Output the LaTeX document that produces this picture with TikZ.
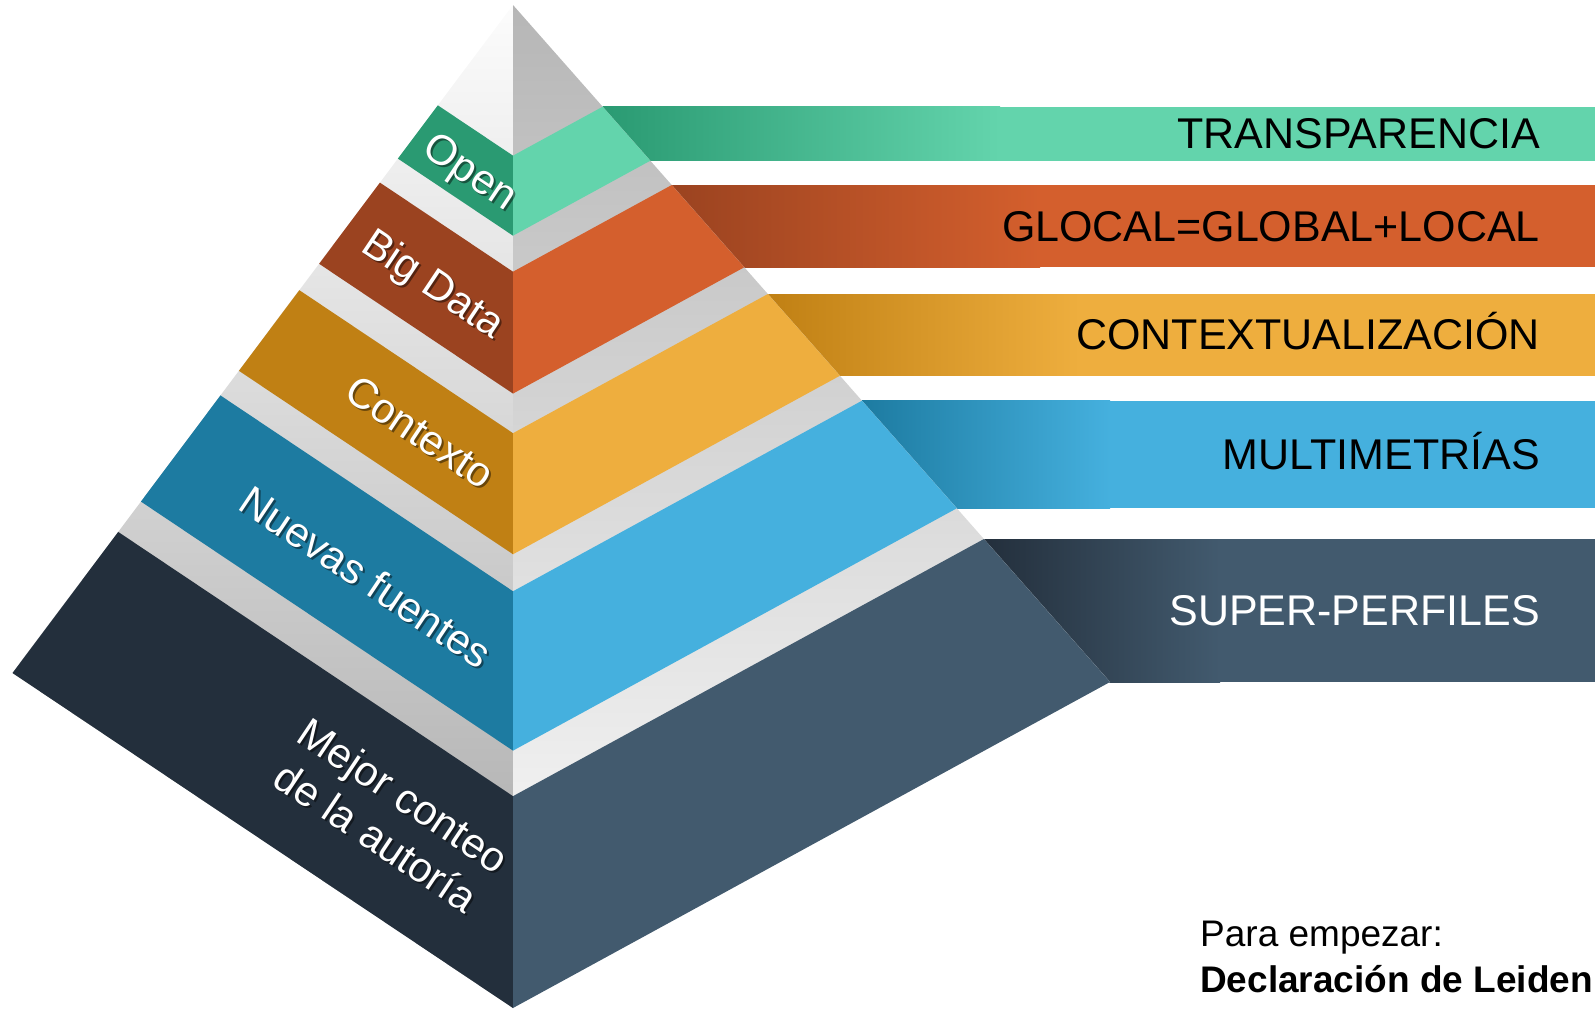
\documentclass[tikz,border=0pt]{standalone}
\usepackage{fontspec}
\setmainfont{Liberation Sans}
\usetikzlibrary{calc}

\definecolor{openL}{RGB}{42,154,114}
\definecolor{openR}{RGB}{99,212,172}
\definecolor{bigL}{RGB}{155,67,32}
\definecolor{bigR}{RGB}{212,95,45}
\definecolor{ctxL}{RGB}{192,128,20}
\definecolor{ctxR}{RGB}{238,174,62}
\definecolor{newL}{RGB}{29,123,161}
\definecolor{newR}{RGB}{69,176,222}
\definecolor{autL}{RGB}{35,47,60}
\definecolor{autR}{RGB}{66,90,110}
\definecolor{leftTop}{RGB}{252,252,252}
\definecolor{leftBot}{RGB}{165,165,165}
\definecolor{rightTop}{RGB}{182,182,182}
\definecolor{rightBot}{RGB}{255,255,255}

\begin{document}
\begin{tikzpicture}[x=1pt, y=-1pt,
    band/.style={font=\fontsize{43}{48}\selectfont, anchor=base east, inner sep=0pt},
    face/.style={text=white, font=\fontsize{42}{50}\selectfont, rotate=-33.8, align=center, inner sep=0pt},
    faceshadow/.style={face, text=black, opacity=0.45},
    note/.style={font=\fontsize{37}{44}\selectfont, anchor=base west, inner sep=0pt}]

    \useasboundingbox (0,0) rectangle (1595,1009);
    \coordinate (rgt) at (1595,0);
    \coordinate (apex) at (513,5);
    \coordinate (lb) at (12.5,673);
    \coordinate (rb) at (1110,682);
    \coordinate (cb) at (513,1008);

    % bands to the right of the pyramid
    \foreach \ta/\tb/\dk/\lt/\xe/\tc/\txt [count=\i] in {
        0.1502/0.2300/openL/openR/1000/black/TRANSPARENCIA,
        0.2659/0.3874/bigL/bigR/1040/black/GLOCAL=GLOBAL+LOCAL,
        0.4269/0.5476/ctxL/ctxR/1080/black/CONTEXTUALIZACIÓN,
        0.5845/0.7434/newL/newR/1110/black/MULTIMETRÍAS,
        0.7888/1/autL/autR/1220/white/SUPER-PERFILES}
    {
    \path ($(apex)!\ta!(rb)$) coordinate (bt\i) ($(apex)!\tb!(rb)$) coordinate (bb\i);
    \coordinate (xe\i) at (\xe,0);
    \fill[\lt] (bt\i) rectangle (bb\i -| rgt);
    \shade[left color=\dk, right color=\lt] (bt\i) rectangle (bb\i -| xe\i);
    \node[band, text=\tc] (band\i) at ($(bt\i -| rgt)!0.5!(bb\i -| rgt) + (-55,15)$) {\txt};
    }

    % the two faces
    \shade[top color=leftTop, bottom color=leftBot] (apex) -- (lb) -- (cb) -- cycle;
    \shade[top color=rightTop, bottom color=rightBot] (apex) -- (cb) -- (rb) -- cycle;

    % layers
    \foreach \ta/\tb/\dk/\lt in {0.1502/0.2300/openL/openR, 0.2659/0.3874/bigL/bigR,
        0.4269/0.5476/ctxL/ctxR, 0.5845/0.7434/newL/newR, 0.7888/1/autL/autR}
    {
    \fill[\dk] ($(apex)!\ta!(lb)$) -- ($(apex)!\ta!(cb)$) -- ($(apex)!\tb!(cb)$) -- ($(apex)!\tb!(lb)$) -- cycle;
    \fill[\lt] ($(apex)!\ta!(cb)$) -- ($(apex)!\ta!(rb)$) -- ($(apex)!\tb!(rb)$) -- ($(apex)!\tb!(cb)$) -- cycle;
    }

    % labels on the left face
    \foreach \x/\y/\txt [count=\i] in {469/174/Open, 432/286/Big Data, 420/432/Contexto,
        366/577/Nuevas fuentes, 390/816/{Mejor conteo\\de la autoría}}
    {
    \node[faceshadow] (shd\i) at (\x+2,\y+2) {\txt};
    \node[face] (lbl\i) at (\x,\y) {\txt};
    }

    \node[note] (start) at (1200,946) {Para empezar:};
    \node[note, font=\fontsize{37}{44}\selectfont\bfseries] (leiden) at (1200,992) {Declaración de Leiden};

\end{tikzpicture}
\end{document}
